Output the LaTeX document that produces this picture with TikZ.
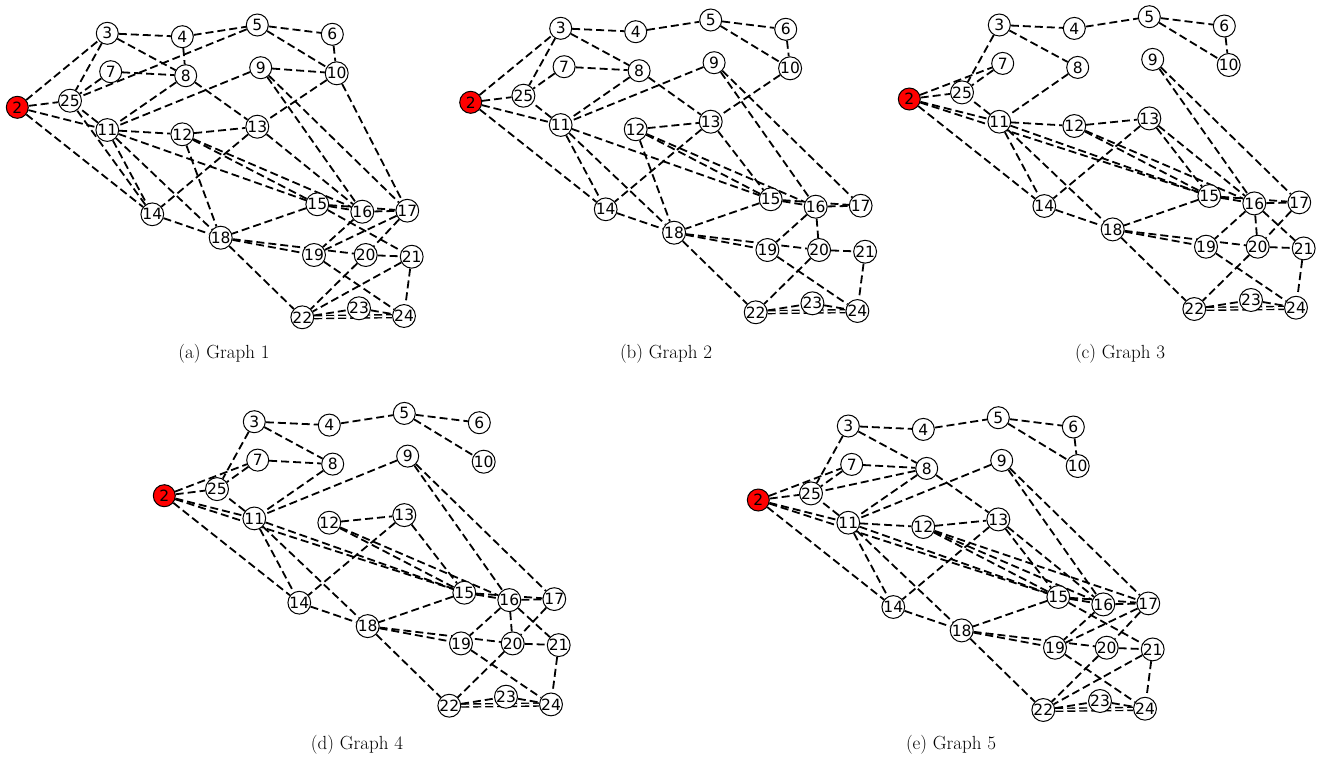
\documentclass[tikz,border=0pt]{standalone}
\usepackage{fontspec}
\newfontfamily\labelfont{DejaVu Sans}
\usetikzlibrary{backgrounds}

% same layout in every panel, #1 is the name prefix
\newcommand{\graphnodes}[1]{%
  \foreach \n/\x/\y in {3/107.3/33.3, 4/182.3/36.7, 5/257.3/25, 6/332.3/34.3,
      7/110.7/71.7, 8/185.7/75.7, 9/260.7/67.7, 10/336.7/73.3,
      11/107.3/130, 12/182.3/134.3, 13/257.3/126.7, 14/152.3/214.3,
      15/317.3/204.3, 16/362.3/211.7, 17/407.3/210.7, 18/220.7/237.7,
      19/314/255, 20/365.7/255, 21/411.7/256.7, 22/302.3/317.3,
      23/359/308.3, 24/404/316, 25/70/100.7}
    \node[vertex] (#1\n) at (\x,\y) {\n};
  \node[vertex, fill=red] (#12) at (17.3,107.3) {2};}

% edges go behind the nodes
\newcommand{\graphedges}[2]{%
  \begin{scope}[on background layer]
    \foreach \u/\v in {#2}
      \draw[link] (#1\u) -- (#1\v);
    \draw[link, twin] (#122) -- (#124);
  \end{scope}}

\begin{document}
\begin{tikzpicture}[x=1pt, y=-1pt,
  vertex/.style = {shape=circle, draw, line width=1pt, fill=white,
    minimum size=22pt, inner sep=0pt,
    font=\labelfont\fontsize{15.5}{15.5}\selectfont},
  link/.style = {line width=1.8pt, dash pattern=on 8pt off 4pt},
  twin/.style = {double, double distance=1.5pt, line width=1.4pt},
  caption/.style = {font=\fontsize{19}{19}\selectfont}]
  \useasboundingbox (0,0) rectangle (1319,764);

  % (a)
  \graphnodes{a}
  \graphedges{a}{2/3, 2/25, 2/11, 2/14, 3/4, 3/8, 3/25, 4/5, 4/8,
    5/6, 5/10, 5/25, 6/10, 7/8, 7/25, 8/11, 8/13, 9/10, 9/11, 9/16, 9/17,
    10/13, 10/17, 11/12, 11/14, 11/15, 11/18, 11/25, 14/25,
    12/13, 12/15, 12/16, 12/18, 13/14, 13/16, 14/18,
    15/16, 15/17, 15/18, 15/21, 16/17, 16/19, 17/19, 17/20,
    18/19, 18/20, 18/22, 20/21, 20/22, 21/22, 21/24, 19/24, 22/23, 23/24}
  \node[caption] (capa) at (224,354) {(a) Graph 1};

  % (b)
  \begin{scope}[shift={(453.4,-5)}]
    \graphnodes{b}
    \graphedges{b}{2/3, 2/25, 2/11, 2/14, 3/4, 3/8, 3/25, 4/5,
      5/6, 5/10, 6/10, 7/8, 7/25, 8/11, 8/13, 9/11, 9/16, 9/17, 10/13,
      11/14, 11/15, 11/18, 11/25, 12/13, 12/15, 12/16, 12/18,
      13/14, 13/15, 14/18, 15/16, 15/17, 15/18, 16/17, 16/19, 16/20,
      18/19, 18/20, 18/22, 19/24, 20/21, 20/22, 21/24, 22/23, 23/24}
  \end{scope}
  \node[caption] (capb) at (666,354) {(b) Graph 2};

  % (c)
  \begin{scope}[shift={(892,-8.3)}]
    \graphnodes{c}
    \graphedges{c}{2/7, 2/25, 2/11, 2/15, 2/14, 3/4, 3/8, 3/25,
      4/5, 5/6, 5/10, 6/10, 7/25, 8/11, 9/16, 9/17,
      11/12, 11/14, 11/15, 11/18, 11/25, 12/13, 12/15, 12/16,
      13/14, 13/15, 13/16, 14/18, 15/16, 15/17, 15/18,
      16/17, 16/19, 16/20, 16/21, 17/20, 18/19, 18/20, 18/22,
      19/24, 20/21, 20/22, 21/24, 22/23, 23/24}
  \end{scope}
  \node[caption] (capc) at (1120,354) {(c) Graph 3};

  % (d)
  \begin{scope}[shift={(147,388.4)}]
    \graphnodes{d}
    \graphedges{d}{2/7, 2/25, 2/11, 2/15, 2/14, 3/4, 3/8, 3/25,
      4/5, 5/6, 5/10, 7/8, 7/25, 8/11, 9/11, 9/16, 9/17,
      11/14, 11/15, 11/18, 11/25, 12/13, 12/15, 12/16,
      13/14, 13/15, 14/18, 15/16, 15/17, 15/18,
      16/17, 16/19, 16/20, 16/21, 17/20, 18/19, 18/20, 18/22,
      19/24, 20/21, 20/22, 21/24, 22/23, 23/24}
  \end{scope}
  \node[caption] (capd) at (357,745) {(d) Graph 4};

  % (e)
  \begin{scope}[shift={(741,392.7)}]
    \graphnodes{e}
    \graphedges{e}{2/7, 2/25, 2/11, 2/15, 2/14, 3/4, 3/8, 3/25,
      4/5, 5/6, 5/10, 6/10, 7/8, 7/25, 8/11, 8/13, 8/25,
      9/11, 9/16, 9/17, 11/12, 11/14, 11/15, 11/18, 11/25,
      12/13, 12/15, 12/16, 12/17, 13/14, 13/15, 13/16, 14/18,
      15/16, 15/17, 15/18, 15/21, 16/17, 16/19, 17/19, 17/20,
      18/19, 18/20, 18/22, 19/24, 20/21, 20/22, 21/22, 21/24, 22/23, 23/24}
  \end{scope}
  \node[caption] (cape) at (951,745) {(e) Graph 5};
\end{tikzpicture}
\end{document}
